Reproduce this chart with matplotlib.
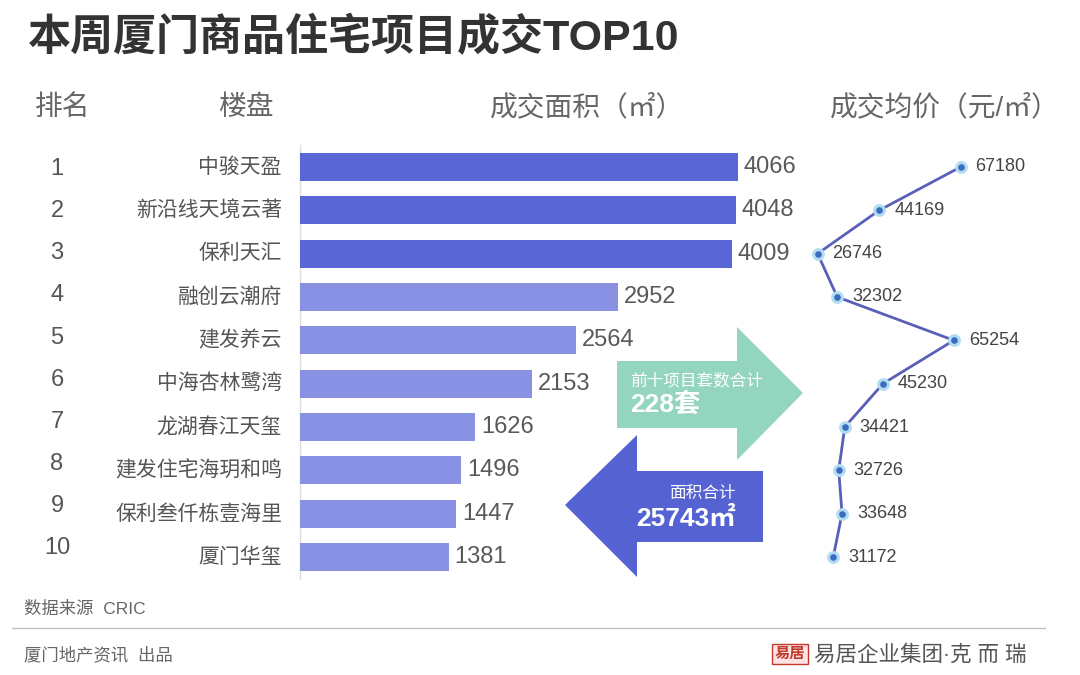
import numpy as np
import matplotlib.pyplot as plt
from matplotlib.patches import Polygon

# data
ranks = ['1', '2', '3', '4', '5', '6', '7', '8', '9', '10']
projects = ['中骏天盈', '新沿线天境云著', '保利天汇', '融创云潮府', '建发养云',
            '中海杏林鹭湾', '龙湖春江天玺', '建发住宅海玥和鸣', '保利叁仟栋壹海里',
            '厦门华玺']
area = [4066, 4048, 4009, 2952, 2564, 2153, 1626, 1496, 1447, 1381]
price = [67180, 44169, 26746, 32302, 65254, 45230, 34421, 32726, 33648, 31172]
total_units = 228
total_area = 25743

W, H = 1080, 675
plt.rcParams['font.family'] = ['Liberation Sans', 'Noto Sans CJK SC', 'DejaVu Sans']

fig = plt.figure(figsize=(10.8, 6.75), dpi=100)
fig.patch.set_facecolor('white')


def fx(px):
    return px / W


def fy(py):
    return 1 - py / H


# title
fig.text(fx(28), fy(38), '本周厦门商品住宅项目成交TOP10', fontsize=31,
         fontweight='bold', color='#333333', va='center', ha='left')

# headers
hdr = dict(fontsize=20, color='#666666', va='center')
fig.text(fx(35), fy(108), '排名', ha='left', **hdr)
fig.text(fx(218), fy(108), '楼盘', ha='left', **hdr)
fig.text(fx(490), fy(108), '成交面积（㎡）', ha='left', **hdr)
fig.text(fx(830), fy(108), '成交均价（元/㎡）', ha='left', **hdr)

# bar axes
top, bottom = 145.3, 578.7
ax = fig.add_axes([fx(300), fy(bottom), 440 / W, (bottom - top) / H])
y = np.arange(len(area))
colors = ['#5866d6'] * 3 + ['#8891e3'] * 7
ax.barh(y, area, height=0.65, color=colors, zorder=3)
ax.set_xlim(0, 440 / 0.1077)
ax.set_ylim(len(area) - 0.5, -0.5)
for s in ['top', 'right', 'bottom']:
    ax.spines[s].set_visible(False)
ax.spines['left'].set_color('#dddddd')
ax.spines['left'].set_linewidth(1)
ax.set_xticks([])
ax.set_yticks([])
ax.patch.set_alpha(0)

px_per_unit = 0.1077
for i, v in enumerate(area):
    ax.text(v + 6 / px_per_unit, i, str(v), fontsize=17, color='#595959',
            va='center', ha='left', clip_on=False)
    ax.annotate(projects[i], xy=(0, i), xytext=(-18, 0),
                textcoords='offset pixels', fontsize=15, color='#555555',
                va='center', ha='right', annotation_clip=False)
    # rank numbers are spaced a little tighter than the bars
    ax.annotate(ranks[i], xy=(0, i), xytext=(-243, -2 + 1.2 * i),
                textcoords='offset pixels', fontsize=17, color='#555555',
                va='center', ha='center', annotation_clip=False)

# price line axes
ax2 = fig.add_axes([fx(723), fy(bottom), 277 / W, (bottom - top) / H])
ax2.plot(price, y, color='#5a5fb8', linewidth=2, zorder=2)
ax2.plot(price, y, linestyle='none', marker='o', markersize=7,
         markerfacecolor='#3a6cc0', markeredgecolor='#b3dcf2',
         markeredgewidth=2.2, zorder=3)
ax2.set_xlim(0, 277 / 0.003537)
ax2.set_ylim(len(price) - 0.5, -0.5)
ax2.axis('off')
for i, v in enumerate(price):
    ax2.annotate(str(v), xy=(v, i), xytext=(15, 0), textcoords='offset pixels',
                 fontsize=13, color='#444444', va='center', ha='left',
                 annotation_clip=False)

# arrows
green = [(617, 361), (737, 361), (737, 327), (803, 393), (737, 460),
         (737, 428), (617, 428)]
blue = [(763, 471), (637, 471), (637, 435), (565, 505), (637, 577),
        (637, 542), (763, 542)]
fig.patches.append(Polygon([(fx(a), fy(b)) for a, b in green], closed=True,
                           transform=fig.transFigure, facecolor='#93d5be',
                           edgecolor='none', zorder=1))
fig.patches.append(Polygon([(fx(a), fy(b)) for a, b in blue], closed=True,
                           transform=fig.transFigure, facecolor='#5563d2',
                           edgecolor='none', zorder=1))
fig.text(fx(630), fy(380), '前十项目套数合计', fontsize=12, color='white',
         ha='left', va='center', zorder=5)
fig.text(fx(630), fy(404), f'{total_units}套', fontsize=19, color='white',
         fontweight='bold', ha='left', va='center', zorder=5)
fig.text(fx(736), fy(493), '面积合计', fontsize=12, color='white',
         ha='right', va='center', zorder=5)
fig.text(fx(736), fy(519), f'{total_area}㎡', fontsize=19, color='white',
         fontweight='bold', ha='right', va='center', zorder=5)

# footer
fig.text(fx(24), fy(609), '数据来源  CRIC', fontsize=12.5, color='#666666',
         ha='left', va='center')
fig.lines.append(plt.Line2D([fx(12), fx(1045)], [fy(628), fy(628)],
                            transform=fig.transFigure, color='#c0c0c0',
                            linewidth=1))
fig.text(fx(24), fy(655), '厦门地产资讯  出品', fontsize=12.5, color='#666666',
         ha='left', va='center')
fig.text(fx(790), fy(654), '易居', fontsize=11, color='#c0392b', ha='center',
         va='center', fontweight='bold',
         bbox=dict(boxstyle='square,pad=0.2', facecolor='#fbe3e3',
                   edgecolor='#c0392b', linewidth=1))
fig.text(fx(814), fy(655), '易居企业集团·克 而 瑞', fontsize=15.5, color='#555555',
         ha='left', va='center')

plt.savefig('out.png', dpi=100)
plt.close()
